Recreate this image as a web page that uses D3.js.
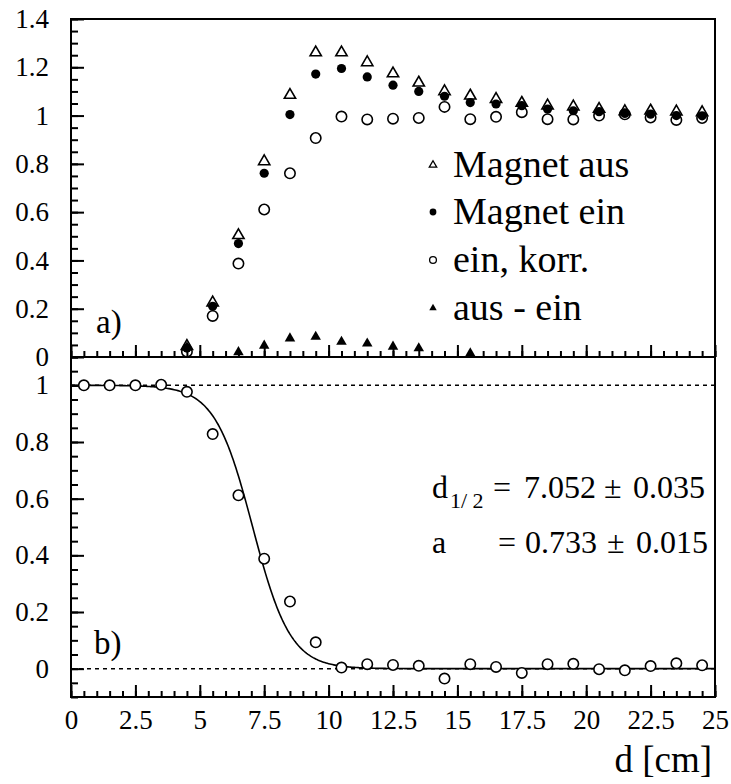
<!DOCTYPE html>
<html>
<head>
<meta charset="utf-8">
<script src="https://cdn.jsdelivr.net/npm/d3@7"></script>
<style>
  body { margin: 0; background: #fff; }
</style>
</head>
<body>
<div id="chart"></div>
<script>
// bin centres in cm
var dBins = [0.5, 1.5, 2.5, 3.5, 4.5, 5.5, 6.5, 7.5, 8.5, 9.5, 10.5, 11.5, 12.5,
  13.5, 14.5, 15.5, 16.5, 17.5, 18.5, 19.5, 20.5, 21.5, 22.5, 23.5, 24.5];

// panel a)
var magnetAus = [null, null, null, null, 0.045, 0.225, 0.504, 0.81, 1.085, 1.261, 1.261, 1.22, 1.174,
  1.136, 1.10, 1.082, 1.068, 1.052, 1.041, 1.037, 1.027, 1.017, 1.02, 1.016, 1.013];
var magnetEin = [null, null, null, null, 0.037, 0.21, 0.47, 0.761, 1.004, 1.172, 1.195, 1.16, 1.126,
  1.10, 1.08, 1.054, 1.048, 1.041, 1.027, 1.02, 1.016, 1.009, 1.006, 1.0, 0.999];
var einKorr = [null, null, null, null, 0.022, 0.17, 0.387, 0.611, 0.761, 0.907, 0.996, 0.984, 0.987,
  0.99, 1.036, 0.985, 0.995, 1.014, 0.985, 0.984, 1.0, 1.005, 0.992, 0.982, 0.99];
var ausMinusEin = [null, null, null, null, 0.04, null, 0.02, 0.047, 0.077, 0.084, 0.063, 0.056, 0.043,
  0.036, null, 0.015, null, null, null, null, null, null, null, null, null];

// panel b)
var efficiency = [1.0, 1.0, 1.0, 1.002, 0.977, 0.828, 0.612, 0.388, 0.237, 0.093, 0.004, 0.016, 0.013,
  0.01, -0.035, 0.016, 0.006, -0.015, 0.016, 0.017, -0.002, -0.006, 0.009, 0.019, 0.012];

// fit parameters and errors
var fitD12 = 7.052, fitD12Err = 0.035;
var fitA = 0.733, fitAErr = 0.015;

var legendNames = ["Magnet aus", "Magnet ein", "ein, korr.", "aus - ein"];

var serif = "'Liberation Serif', 'Times New Roman', serif";
var svgWidth = 731, svgHeight = 784;
var plotLeft = 71, plotRight = 715, plotTop = 19, plotMid = 357, plotBottom = 697;

var svg = d3.select("#chart").append("svg")
  .attr("width", svgWidth)
  .attr("height", svgHeight)
  .style("font-family", serif);

svg.append("rect").attr("width", svgWidth).attr("height", svgHeight).attr("fill", "#fff");

var x = d3.scaleLinear().domain([0, 25]).range([plotLeft, plotRight]);
var yTop = d3.scaleLinear().domain([0, 1.4]).range([plotMid, plotTop]);
var yBot = d3.scaleLinear().domain([-0.1, 1.1]).range([plotBottom, plotMid]);

function styleAxis(g) {
  g.select(".domain").remove();
  g.attr("font-family", null).attr("font-size", null);
  g.selectAll("line").attr("stroke", "#000").attr("stroke-width", 2);
  g.selectAll("text").style("font-family", serif).style("font-size", "27px").attr("fill", "#000");
}

// x axes
var xMajor = d3.range(0, 25.01, 2.5);
var xMinor = d3.range(0, 25.01, 0.5);

svg.append("g").attr("transform", `translate(0, ${plotMid})`)
  .call(d3.axisBottom(x).tickValues(xMinor).tickSize(-6).tickSizeOuter(0).tickFormat(""))
  .call(styleAxis);
svg.append("g").attr("transform", `translate(0, ${plotMid})`)
  .call(d3.axisBottom(x).tickValues(xMajor).tickSize(-12).tickSizeOuter(0).tickFormat(""))
  .call(styleAxis);

svg.append("g").attr("transform", `translate(0, ${plotBottom})`)
  .call(d3.axisBottom(x).tickValues(xMinor).tickSize(-6).tickSizeOuter(0).tickFormat(""))
  .call(styleAxis);
svg.append("g").attr("transform", `translate(0, ${plotBottom})`)
  .call(d3.axisBottom(x).tickValues(xMajor).tickSize(-12).tickSizeOuter(0).tickPadding(13)
    .tickFormat(d3.format("")))
  .call(styleAxis);

// y axes
svg.append("g").attr("transform", `translate(${plotLeft}, 0)`)
  .call(d3.axisLeft(yTop).tickValues(d3.range(0, 1.401, 0.05)).tickSize(-7).tickSizeOuter(0).tickFormat(""))
  .call(styleAxis);
svg.append("g").attr("transform", `translate(${plotLeft}, 0)`)
  .call(d3.axisLeft(yTop).tickValues(d3.range(0, 1.401, 0.2)).tickSize(-13).tickSizeOuter(0).tickPadding(22)
    .tickFormat(d => d3.format("")(+d.toFixed(1))))
  .call(styleAxis);

svg.append("g").attr("transform", `translate(${plotLeft}, 0)`)
  .call(d3.axisLeft(yBot).tickValues(d3.range(-0.1, 1.101, 0.05)).tickSize(-7).tickSizeOuter(0).tickFormat(""))
  .call(styleAxis);
svg.append("g").attr("transform", `translate(${plotLeft}, 0)`)
  .call(d3.axisLeft(yBot).tickValues(d3.range(0, 1.001, 0.2)).tickSize(-13).tickSizeOuter(0).tickPadding(22)
    .tickFormat(d => d3.format("")(+d.toFixed(1))))
  .call(styleAxis);

// frame
svg.append("rect")
  .attr("x", plotLeft).attr("y", plotTop)
  .attr("width", plotRight - plotLeft).attr("height", plotBottom - plotTop)
  .attr("fill", "none").attr("stroke", "#000").attr("stroke-width", 2);
svg.append("line")
  .attr("x1", plotLeft).attr("x2", plotRight).attr("y1", plotMid).attr("y2", plotMid)
  .attr("stroke", "#000").attr("stroke-width", 2);

// panel a) markers
function pts(vals) {
  return dBins.map((d, i) => ({ d: d, v: vals[i] })).filter(p => p.v !== null);
}
var triOpen = d3.symbol().type(d3.symbolTriangle).size(55);
var triFilled = d3.symbol().type(d3.symbolTriangle).size(48);

var topPlot = svg.append("g");

topPlot.selectAll(".aus").data(pts(magnetAus)).enter().append("path")
  .attr("d", triOpen)
  .attr("transform", p => `translate(${x(p.d)}, ${yTop(p.v)})`)
  .attr("fill", "none").attr("stroke", "#000").attr("stroke-width", 1.6);

topPlot.selectAll(".korr").data(pts(einKorr)).enter().append("circle")
  .attr("cx", p => x(p.d)).attr("cy", p => yTop(p.v)).attr("r", 5.2)
  .attr("fill", "none").attr("stroke", "#000").attr("stroke-width", 1.6);

topPlot.selectAll(".ein").data(pts(magnetEin)).enter().append("circle")
  .attr("cx", p => x(p.d)).attr("cy", p => yTop(p.v)).attr("r", 4.6)
  .attr("fill", "#000");

topPlot.selectAll(".diff").data(pts(ausMinusEin)).enter().append("path")
  .attr("d", triFilled)
  .attr("transform", p => `translate(${x(p.d)}, ${yTop(p.v)})`)
  .attr("fill", "#000");

// legend
var legend = svg.append("g");
var legY = [177, 224, 272, 320];
legend.selectAll("text").data(legendNames).enter().append("text")
  .attr("x", 453).attr("y", (d, i) => legY[i])
  .style("font-size", "38px")
  .text(d => d);
legend.append("path").attr("d", d3.symbol().type(d3.symbolTriangle).size(24))
  .attr("transform", `translate(433, ${legY[0] - 12})`)
  .attr("fill", "none").attr("stroke", "#000").attr("stroke-width", 1.3);
legend.append("circle").attr("cx", 433).attr("cy", legY[1] - 12).attr("r", 3.4).attr("fill", "#000");
legend.append("circle").attr("cx", 433).attr("cy", legY[2] - 12).attr("r", 3.4)
  .attr("fill", "none").attr("stroke", "#000").attr("stroke-width", 1.3);
legend.append("path").attr("d", d3.symbol().type(d3.symbolTriangle).size(24))
  .attr("transform", `translate(433, ${legY[3] - 12})`)
  .attr("fill", "#000");

svg.append("text").attr("x", 96).attr("y", 333).style("font-size", "33px").text("a)");

// panel b)
[0, 1].forEach(function(v) {
  svg.append("line")
    .attr("x1", plotLeft).attr("x2", plotRight).attr("y1", yBot(v)).attr("y2", yBot(v))
    .attr("stroke", "#000").attr("stroke-width", 1.5).attr("stroke-dasharray", "4,4");
});

var fitCurve = d3.range(0, 25.001, 0.05).map(d => ({ d: d, v: 1 / (1 + Math.exp((d - fitD12) / fitA)) }));
svg.append("path").datum(fitCurve)
  .attr("d", d3.line().x(p => x(p.d)).y(p => yBot(p.v)))
  .attr("fill", "none").attr("stroke", "#000").attr("stroke-width", 1.6);

svg.selectAll(".eff").data(pts(efficiency)).enter().append("circle")
  .attr("cx", p => x(p.d)).attr("cy", p => yBot(p.v)).attr("r", 5.2)
  .attr("fill", "#fff").attr("stroke", "#000").attr("stroke-width", 1.6);

svg.append("text").attr("x", 94).attr("y", 654).style("font-size", "33px").text("b)");

// fit result
var fitText = svg.append("g").style("font-size", "32px");
function fitPiece(xp, yp, s) {
  fitText.append("text").attr("x", xp).attr("y", yp).text(s);
}
fitPiece(432, 498, "d");
fitText.append("text").attr("x", 450).attr("y", 508).style("font-size", "22px").text("1/ 2");
fitPiece(493, 498, "=");
fitPiece(524, 498, fitD12.toFixed(3));
fitPiece(604, 498, "\u00b1");
fitPiece(633, 498, fitD12Err.toFixed(3));
fitPiece(432, 553, "a");
fitPiece(498, 553, "=");
fitPiece(525, 553, fitA.toFixed(3));
fitPiece(607, 553, "\u00b1");
fitPiece(636, 553, fitAErr.toFixed(3));

// x axis title
svg.append("text").attr("x", 712).attr("y", 772).attr("text-anchor", "end")
  .style("font-size", "37px").text("d [cm]");
</script>
</body>
</html>
